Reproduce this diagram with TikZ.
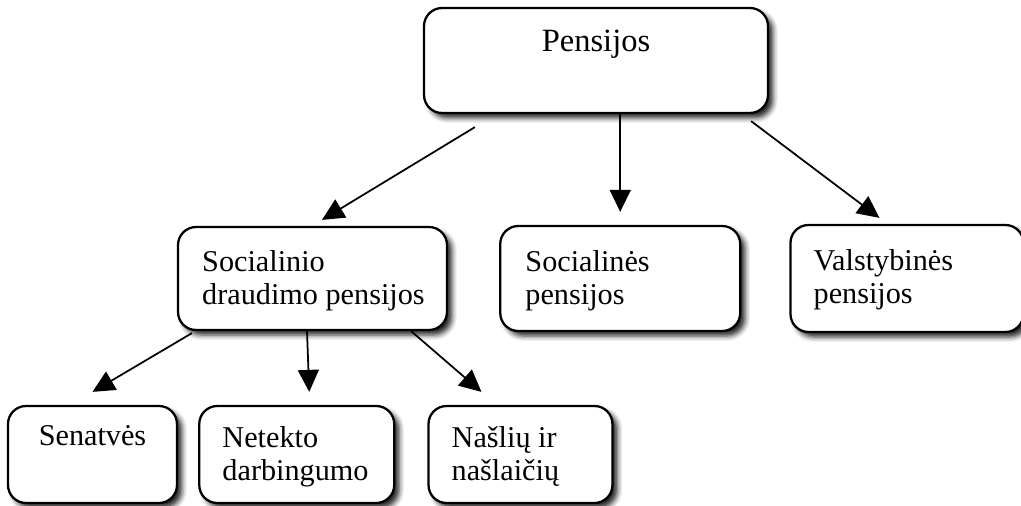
\documentclass[tikz,border=0pt]{standalone}
\usepackage{fontspec}
\setmainfont{Liberation Serif}
\usetikzlibrary{arrows.meta,shadows.blur,positioning}

\begin{document}
\begin{tikzpicture}[x=0.02cm, y=-0.02cm,
        box/.style={draw, line width=1.3pt, rounded corners=0.36cm, fill=white,
            blur shadow={shadow xshift=0.1cm, shadow yshift=-0.1cm, shadow blur radius=0.1cm, shadow opacity=85}},
        txt/.style={inner sep=0pt, align=left, font=\fontsize{17.2}{19}\selectfont},
        link/.style={-{Triangle[length=0.44cm, width=0.42cm]}, line width=1pt}, >=Stealth]

        \useasboundingbox (0,0) rectangle (1021,505);

        \node[box, minimum width=6.88cm, minimum height=2.1cm] (pens) at (596,60.5) {};

        \node[box, minimum width=5.38cm, minimum height=2.06cm] (sdp) at (312.5,278.5) {};
        \node[box, minimum width=4.8cm, minimum height=2.1cm, right=1.02cm of sdp] (soc) {};
        \node[box, minimum width=4.66cm, minimum height=2.14cm, right=0.96cm of soc] (val) {};

        \node[box, minimum width=3.38cm, minimum height=1.94cm] (sen) at (92.5,454.5) {};
        \node[box, minimum width=3.9cm, minimum height=1.94cm, right=0.4cm of sen] (net) {};
        \node[box, minimum width=3.68cm, minimum height=1.94cm, right=0.64cm of net] (nas) {};

        \node[txt, anchor=base, font=\fontsize{18.5}{20}\selectfont] (penst) at ([yshift=-0.9cm]pens.north) {Pensijos};
        \node[txt, anchor=north west] (sdpt) at ([shift={(25,24)}]sdp.north west) {Socialinio\\draudimo pensijos};
        \node[txt, anchor=north west] (soct) at ([shift={(26,25)}]soc.north west) {Socialinės\\pensijos};
        \node[txt, anchor=north west] (valt) at ([shift={(24,25)}]val.north west) {Valstybinės\\pensijos};
        \node[txt, anchor=base] (sent) at ([yshift=-0.82cm]sen.north) {Senatvės};
        \node[txt, anchor=north west] (nett) at ([shift={(24,21)}]net.north west) {Netekto\\darbingumo};
        \node[txt, anchor=north west] (nast) at ([shift={(24,21)}]nas.north west) {Našlių ir\\našlaičių};

        \draw[link] ([shift={(52,13)}]pens.south west) -- ([shift={(9.5,-6)}]sdp.north);
        \draw[link] (pens.south -| soc.north) -- ([yshift=0.26cm]soc.north);
        \draw[link] ([shift={(-18,7)}]pens.south east) -- ([shift={(-27.5,-6)}]val.north);

        \draw[link] ([shift={(15,2)}]sdp.south west) -- ([yshift=0.26cm]sen.north);
        \draw[link] ([xshift=-0.11cm]sdp.south) -- ([shift={(12.5,-13)}]net.north);
        \draw[link] ([xshift=-0.74cm]sdp.south east) -- ([shift={(-39,-13)}]nas.north);

    \end{tikzpicture}
\end{document}
